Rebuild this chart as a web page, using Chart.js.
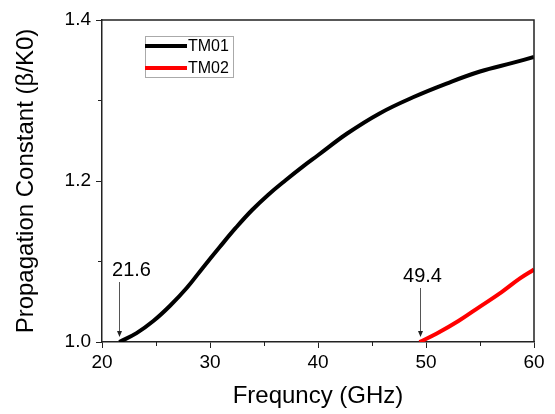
<!DOCTYPE html>
<html lang="en">
<head>
<meta charset="UTF-8">
<title>Propagation Constant vs Frequency</title>
<style>
  html, body { margin: 0; padding: 0; background: #fff; }
  canvas { display: block; }
</style>
<script src="https://cdn.jsdelivr.net/npm/chart.js"></script>
</head>
<body>
<canvas id="chart" width="555" height="414"></canvas>
<script>
// values
const tm01Freq = [21.6, 23.2, 24.75, 26.3, 27.84, 29.38, 30.9, 32.4, 33.9, 35.4, 37, 38.5, 40, 42.7, 45.7, 48.8, 51.9, 55.0, 58.1, 60];
const tm01Beta = [1.000, 1.011, 1.026, 1.045, 1.067, 1.093, 1.118, 1.142, 1.164, 1.183, 1.201, 1.217, 1.232, 1.259, 1.284, 1.304, 1.321, 1.336, 1.347, 1.354];
const tm02Freq = [49.4, 51, 53, 55, 57, 58.7, 60];
const tm02Beta = [1.000, 1.0105, 1.026, 1.044, 1.062, 1.079, 1.090];
const seriesLabels = ['TM01', 'TM02'];
const seriesColors = ['#000000', '#ff0000'];
const xMinorTicks = [25, 35, 45, 55];
const yMinorTicks = [1.1, 1.3];
const cutoffFreq = [21.6, 49.4];
const cutoffLabels = ['21.6', '49.4'];

const FONT = 'Arial, "Liberation Sans", sans-serif';

function toPoints(xs, ys) {
  return xs.map((x, i) => ({ x: x, y: ys[i] }));
}

// frame, minor ticks, cutoff arrows and the inset legend
const decorations = {
  id: 'decorations',
  afterDraw(chart) {
    const { ctx, chartArea: a, scales: { x, y } } = chart;
    ctx.save();

    // top + right side of the box
    ctx.strokeStyle = '#222';
    ctx.lineWidth = 1.5;
    ctx.beginPath();
    ctx.moveTo(a.left, a.top);
    ctx.lineTo(a.right, a.top);
    ctx.lineTo(a.right, a.bottom);
    ctx.stroke();

    // minor ticks
    ctx.lineWidth = 1;
    ctx.beginPath();
    xMinorTicks.forEach(v => {
      const px = Math.round(x.getPixelForValue(v)) + 0.5;
      ctx.moveTo(px, a.bottom);
      ctx.lineTo(px, a.bottom + 4);
    });
    yMinorTicks.forEach(v => {
      const py = Math.round(y.getPixelForValue(v)) + 0.5;
      ctx.moveTo(a.left, py);
      ctx.lineTo(a.left - 4, py);
    });
    ctx.stroke();

    // cutoff arrows
    const textOffsets = [12, 2];
    const arrowTops = [282, 288];
    ctx.font = '20px ' + FONT;
    ctx.textAlign = 'center';
    ctx.textBaseline = 'middle';
    cutoffFreq.forEach((f, i) => {
      const px = Math.round(x.getPixelForValue(f)) + 0.5;
      const tip = a.bottom - 5;
      ctx.strokeStyle = '#555';
      ctx.lineWidth = 1;
      ctx.beginPath();
      ctx.moveTo(px, arrowTops[i]);
      ctx.lineTo(px, tip - 5);
      ctx.stroke();
      ctx.fillStyle = '#222';
      ctx.beginPath();
      ctx.moveTo(px - 2.5, tip - 6);
      ctx.lineTo(px + 2.5, tip - 6);
      ctx.lineTo(px, tip);
      ctx.closePath();
      ctx.fill();
      ctx.fillStyle = '#000';
      ctx.fillText(cutoffLabels[i], px + textOffsets[i], arrowTops[i] - 12);
    });

    // legend inside the plot
    const lx = a.left + 43, ly = a.top + 16;
    ctx.strokeStyle = '#aaa';
    ctx.lineWidth = 1;
    ctx.strokeRect(lx + 0.5, ly + 0.5, 88, 41);
    ctx.font = '16px ' + FONT;
    ctx.textAlign = 'left';
    chart.data.datasets.forEach((ds, i) => {
      const yy = ly + 10 + i * 22;
      ctx.strokeStyle = ds.borderColor;
      ctx.lineWidth = 4;
      ctx.beginPath();
      ctx.moveTo(lx, yy);
      ctx.lineTo(lx + 42, yy);
      ctx.stroke();
      ctx.fillStyle = '#000';
      ctx.fillText(ds.label, lx + 43, yy + 1);
    });

    ctx.restore();
  }
};

new Chart(document.getElementById('chart'), {
  type: 'line',
  data: {
    datasets: [
      {
        label: seriesLabels[0],
        data: toPoints(tm01Freq, tm01Beta),
        borderColor: seriesColors[0],
        borderWidth: 4,
        pointRadius: 0,
        tension: 0.4,
        fill: false
      },
      {
        label: seriesLabels[1],
        data: toPoints(tm02Freq, tm02Beta),
        borderColor: seriesColors[1],
        borderWidth: 4,
        pointRadius: 0,
        tension: 0.4,
        fill: false
      }
    ]
  },
  options: {
    responsive: false,
    animation: false,
    layout: { padding: { top: 20, right: 21, left: 0, bottom: 0 } },
    plugins: {
      legend: { display: false },
      tooltip: { enabled: false }
    },
    scales: {
      x: {
        type: 'linear',
        min: 20,
        max: 60,
        afterFit: s => { s.height = 72; },
        ticks: { stepSize: 10, color: '#000', padding: 3, font: { family: FONT, size: 19 } },
        grid: { drawOnChartArea: false, tickLength: 6, tickColor: '#222', tickWidth: 1 },
        border: { color: '#222', width: 1.5 },
        title: {
          display: true,
          text: 'Frequncy (GHz)',
          color: '#000',
          font: { family: FONT, size: 24 },
          padding: { top: 0, bottom: 3 }
        }
      },
      y: {
        min: 1.0,
        max: 1.4,
        afterFit: s => { s.width = 102; },
        ticks: {
          stepSize: 0.2,
          color: '#000',
          padding: 5,
          font: { family: FONT, size: 19 },
          callback: v => v.toFixed(1)
        },
        grid: { drawOnChartArea: false, tickLength: 6, tickColor: '#222', tickWidth: 1 },
        border: { color: '#222', width: 1.5 },
        title: {
          display: true,
          text: 'Propagation Constant (β/K0)',
          color: '#000',
          font: { family: FONT, size: 24 },
          padding: { top: 12, bottom: 0 }
        }
      }
    }
  },
  plugins: [decorations]
});
</script>
</body>
</html>
